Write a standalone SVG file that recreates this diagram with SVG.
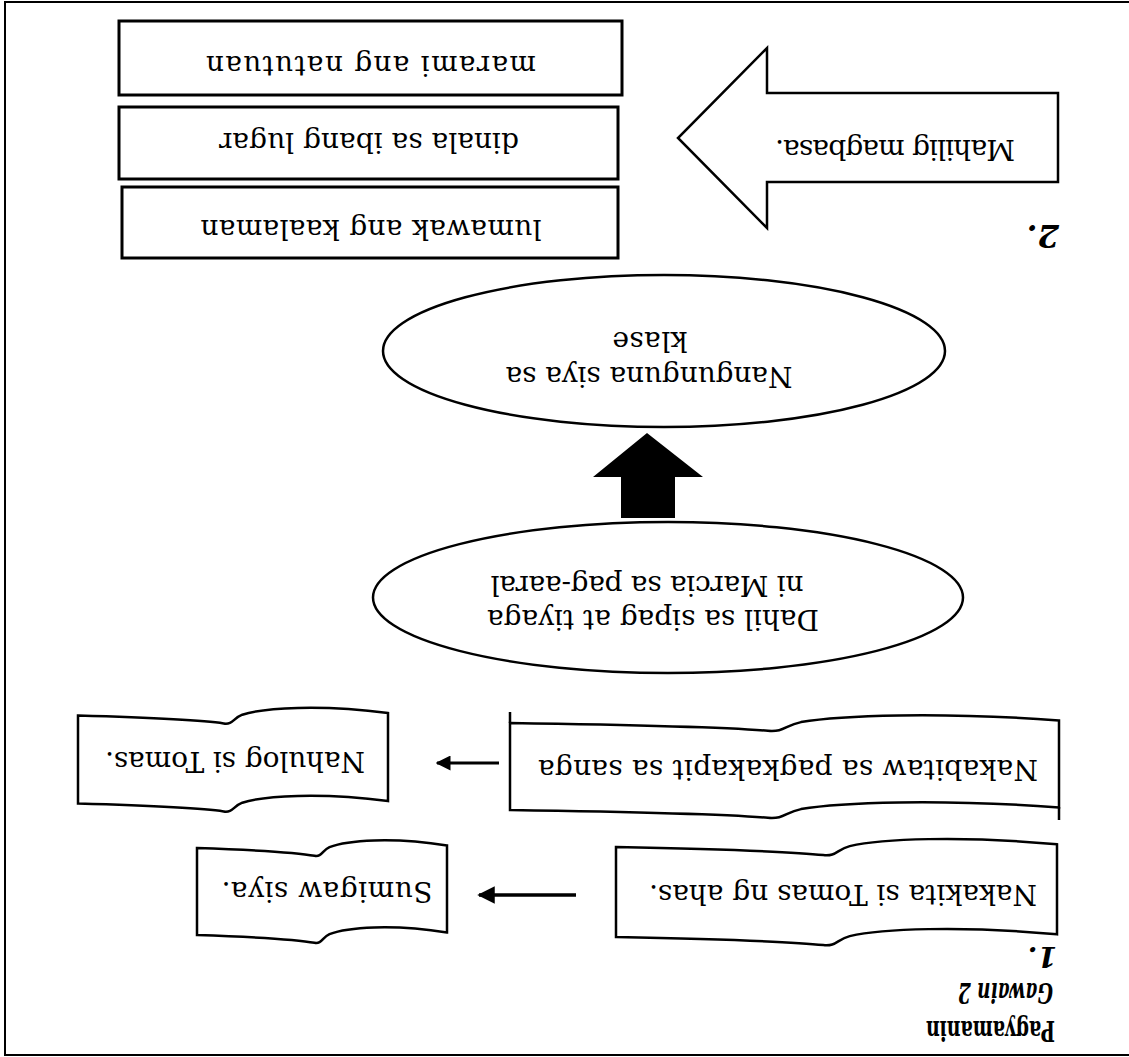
<svg xmlns="http://www.w3.org/2000/svg" width="1129" height="1057" viewBox="0 0 1129 1057">
<defs>
<style>
.t{font-family:"DejaVu Serif","Liberation Serif",serif;font-size:28px;fill:#000}
.tb{font-family:"DejaVu Serif","Liberation Serif",serif;font-weight:bold;fill:#000}
.box{fill:#fff;stroke:#000;stroke-width:3}
.sh{fill:#fff;stroke:#000;stroke-width:2.5}
.scroll{fill:#fff;stroke:#000;stroke-width:2.5;stroke-linejoin:miter}
.ln{fill:none;stroke:#000;stroke-width:2.5}
</style>
<marker id="ah" viewBox="0 0 10 10" refX="9" refY="5" markerWidth="5" markerHeight="5" orient="auto" markerUnits="strokeWidth">
<path d="M0,0 L10,5 L0,10 Z" fill="#000"/>
</marker>
</defs>
<rect width="1129" height="1057" fill="#fff"/>
<path id="border" d="M1129,2 H5 V1055 H1129" fill="none" stroke="#000" stroke-width="2"/>

<g id="title">
<text class="tb" font-size="27" x="1055" y="1021" transform="rotate(180 1055 1021)" textLength="129" lengthAdjust="spacingAndGlyphs">Pagyamanin</text>
<text class="tb" font-size="27" font-style="italic" x="1053" y="983" transform="rotate(180 1053 983)" textLength="95" lengthAdjust="spacingAndGlyphs">Gawain 2</text>
<text class="tb" font-size="28" font-style="italic" x="1057" y="947" transform="rotate(180 1057 947)">1.</text>
</g>

<g id="label2">
<text class="tb" font-size="31" font-style="italic" x="1059" y="225" transform="rotate(180 1059 225)">2.</text>
</g>

<g id="box-marami">
<rect class="box" x="119" y="21" width="503" height="74"/>
<text class="t" x="371" y="56" text-anchor="middle" transform="rotate(180 371 56)" textLength="330">marami ang natutuan</text>
</g>
<g id="box-dinala">
<rect class="box" x="119" y="107" width="499" height="72"/>
<text class="t" x="369" y="133" text-anchor="middle" transform="rotate(180 369 133)" textLength="300">dinala sa ibang lugar</text>
</g>
<g id="box-lumawak">
<rect class="box" x="122" y="187" width="496" height="71"/>
<text class="t" x="371" y="220" text-anchor="middle" transform="rotate(180 371 220)" textLength="341">lumawak ang kaalaman</text>
</g>

<g id="arrow-mahilig">
<polygon class="sh" points="1058,93 767,93 767,48 678,138 767,228 767,182 1058,182"/>
<text class="t" x="895" y="140" text-anchor="middle" transform="rotate(180 895 140)" textLength="240">Mahilig magbasa.</text>
</g>

<g id="ellipse-nangunguna">
<ellipse class="sh" cx="664" cy="351" rx="281" ry="76"/>
<text class="t" x="649" y="367" text-anchor="middle" transform="rotate(180 649 367)" textLength="287">Nangunguna siya sa</text>
<text class="t" x="650" y="332" text-anchor="middle" transform="rotate(180 650 332)" textLength="75">klase</text>
</g>

<g id="ellipse-dahil">
<ellipse class="sh" cx="668" cy="597.5" rx="295" ry="75.5"/>
<text class="t" x="647" y="576" text-anchor="middle" transform="rotate(180 647 576)" textLength="313">ni Marcia sa pag-aaral</text>
<text class="t" x="653" y="610" text-anchor="middle" transform="rotate(180 653 610)" textLength="332">Dahil sa sipag at tiyaga</text>
</g>

<g id="scroll-nakabitaw">
<path class="scroll" d="M510,723 C619.8,724.7 729.6,727.4 768,730.8 C784.5,732.1 784.5,725.6 801,722.1 C839.4,715.2 938.2,711.7 1059,720.4 L1059,807.4 C938.2,798.7 839.4,802.2 801,809.1 C784.5,812.6 784.5,819.1 768,817.8 C729.6,814.4 619.8,811.7 510,810 Z"/>
<path class="ln" d="M510,712 V723 M1059,807 V820"/>
<text class="t" x="788" y="760" text-anchor="middle" transform="rotate(180 788 760)" textLength="500">Nakabitaw sa pagkakapit sa sanga</text>
</g>

<g id="scroll-nakakita">
<path class="scroll" d="M616,847 C704.2,848.8 792.4,851.5 823.3,855.1 C836.5,856.5 836.5,849.7 849.7,846.1 C880.6,838.9 960,835.3 1057,844.3 L1057,934.3 C960,925.3 880.6,928.9 849.7,936.1 C836.5,939.7 836.5,946.5 823.3,945.1 C792.4,941.5 704.2,938.8 616,937 Z"/>
<text class="t" x="843" y="885" text-anchor="middle" transform="rotate(180 843 885)" textLength="388">Nakakita si Tomas ng ahas.</text>
</g>

<g id="scroll-nahulog">
<path class="scroll" d="M78,715.6 C140,717.4 202,720 223.7,723.5 C233,724.8 233,718.2 242.3,714.7 C264,707.7 319.8,704.2 388,713 L388,801 C319.8,792.2 264,795.7 242.3,802.7 C233,806.2 233,812.8 223.7,811.5 C202,808 140,805.4 78,803.6 Z"/>
<text class="t" x="235" y="752" text-anchor="middle" transform="rotate(180 235 752)" textLength="260">Nahulog si Tomas.</text>
</g>

<g id="scroll-sumigaw">
<path class="scroll" d="M197,848 C247,849.7 297,852.4 314.5,855.8 C322,857.1 322,850.6 329.5,847.1 C347,840.2 392,836.7 447,845.4 L447,932.4 C392,923.7 347,927.2 329.5,934.1 C322,937.6 322,944.1 314.5,942.8 C297,939.4 247,936.7 197,935 Z"/>
<text class="t" x="327" y="882" text-anchor="middle" transform="rotate(180 327 882)" textLength="211">Sumigaw siya.</text>
</g>

<g id="connectors">
<polygon id="arrow-up" points="647,433 703,477 675,477 675,518 621,518 621,477 593,477" fill="#000"/>
<line id="arrow-nahulog" x1="499" y1="763" x2="437" y2="763" stroke="#000" stroke-width="3" marker-end="url(#ah)"/>
<line id="arrow-sumigaw" x1="576" y1="895" x2="479" y2="895" stroke="#000" stroke-width="3.5" marker-end="url(#ah)"/>
</g>
</svg>
